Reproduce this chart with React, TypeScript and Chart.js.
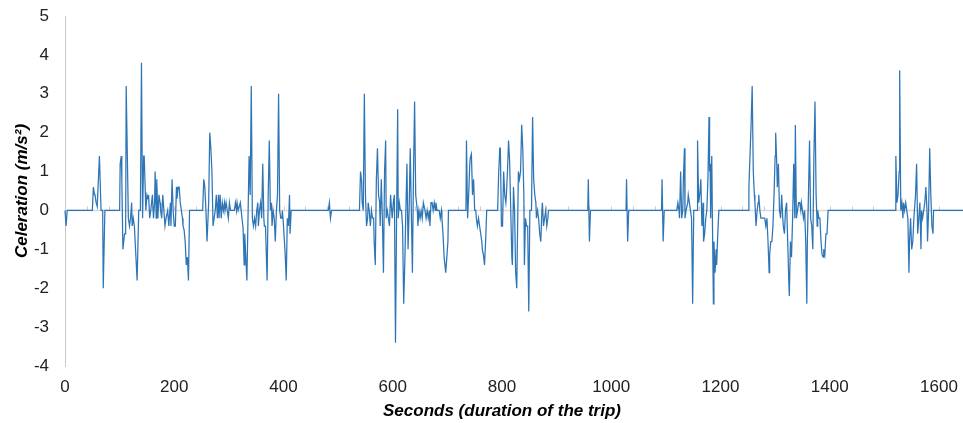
import React, { useEffect, useRef } from "react";
import { Chart, registerables } from "chart.js";

Chart.register(...registerables);

// Trip time (s) and celeration (m/s²)
const seconds = [
  0, 2, 4, 50, 52, 54, 55, 57, 59, 63, 66, 69, 70, 73,
  100, 101, 103, 104, 106, 109, 111, 112, 116, 118, 120, 122, 123, 125, 127, 132, 135, 138, 140, 142, 144, 145, 148, 150, 152, 153, 155, 157, 160, 162, 164, 165, 167, 168, 170, 172, 174, 175, 177, 179, 181, 183, 185, 186, 188, 190, 193, 194, 196, 198, 200, 202, 204, 205, 207, 209, 211, 213, 215, 216, 218, 220, 222, 224, 226, 228,
  252, 254, 256, 258, 260, 263, 265, 267, 269, 271, 273, 275, 277, 279, 281, 282, 284, 286, 288, 290, 292, 293, 295, 297, 299, 301, 303, 310, 312, 314, 315, 317, 321, 324, 326, 328, 329, 333, 335, 337, 339, 341, 343, 345, 347, 349, 351, 353, 354, 356, 358, 360, 362, 364, 365, 367, 370, 372, 374, 376, 378, 379, 381, 383, 385, 387, 389, 391, 393, 395, 397, 398, 400, 403, 405, 407, 409, 411, 412, 414,
  482, 484, 486, 488,
  539, 541, 543, 544, 546, 548, 550, 552, 554, 555, 557, 559, 561, 563, 565, 566, 568, 570, 572, 574, 576, 577, 579, 581, 583, 585, 587, 588, 590, 592, 594, 596, 598, 599, 601, 603, 605, 607, 609, 610, 612, 614, 616, 618, 620, 622, 624, 626, 628, 630, 632, 634, 636, 638, 640, 642, 645, 646, 648, 650, 652, 654, 656, 657, 659, 661, 663, 665, 667, 668, 670, 672, 674, 676, 678, 679, 681, 685, 687, 689, 690, 692, 694, 697, 699, 701, 702,
  734, 735, 737, 739, 741, 742, 744, 746, 748, 750, 752, 753, 755, 757, 759, 761, 763, 764, 766, 768, 770, 772, 792, 794, 796, 797, 799, 801, 803, 805, 807, 808, 810, 812, 814, 816, 818, 819, 821, 823, 825, 827, 829, 830, 832, 834, 836, 838, 840, 841, 843, 845, 847, 849, 851, 854, 856, 858, 860, 862, 863, 865, 867, 869, 871, 873, 874, 876, 878, 880, 882, 884, 885,
  957, 958, 960, 962, 1027, 1028, 1030, 1032, 1092, 1093, 1095, 1097,
  1120, 1122, 1124, 1125, 1127, 1129, 1131, 1132, 1134, 1135, 1137, 1140, 1141, 1143, 1145, 1147, 1149, 1151, 1157, 1158, 1160, 1162, 1164, 1166, 1168, 1169, 1171, 1173, 1175, 1177, 1179, 1180, 1181, 1182, 1184, 1185, 1187, 1188, 1190, 1192, 1193, 1195, 1197,
  1251, 1252, 1254, 1256, 1258, 1260, 1262, 1263, 1265, 1267, 1269, 1270, 1272, 1274, 1281, 1283, 1285, 1287, 1289, 1290, 1292, 1294, 1296, 1298, 1300, 1301, 1303, 1304, 1306, 1308, 1310, 1312, 1314, 1315, 1317, 1319, 1321, 1323, 1325, 1326, 1328, 1330, 1332, 1334, 1336, 1337, 1339, 1341, 1343, 1345, 1347, 1348, 1350, 1352, 1354, 1356, 1358, 1359, 1361, 1363, 1365, 1367, 1369, 1371, 1373, 1375, 1377, 1378, 1380, 1382, 1384, 1386, 1388, 1389, 1391, 1393, 1395, 1397,
  1520, 1521, 1523, 1525, 1527, 1528, 1530, 1532, 1534, 1535, 1537, 1539, 1541, 1543, 1545, 1546, 1548, 1550, 1552, 1554, 1556, 1557, 1559, 1561, 1563, 1565, 1567, 1568, 1570, 1572, 1574, 1576, 1578, 1579, 1581, 1583, 1585, 1587, 1589, 1590,
  1644,
];

const celeration = [
  0, -0.4, 0, 0, 0.6, 0.4, 0.4, 0.2, 0.1, 1.4, 0, 0, -2.0, 0,
  0, 1.2, 1.4, 0.8, -1.0, -0.6, -0.6, 3.2, -0.2, -0.4, -0.2, 0.2, -0.4, -0.2, -0.4, -1.8, 0, 0, 3.8, -0.2, 1.4, 1.4, 0, 0.4, 0.3, 0.4, -0.2, 0, 0.4, -0.2, 0.2, 1.0, -0.2, 0.8, -0.2, 0.4, 0.2, 0, -0.2, 0.4, 0, -0.4, -0.2, -0.2, 0, -0.4, 0.2, -0.4, 0.8, 0, -0.4, -0.4, 0.6, 0.3, 0.6, 0.6, 0.2, 0, -0.2, -0.4, -0.5, -0.8, -1.4, -1.2, -1.8, 0,
  0, 0.8, 0.6, 0, -0.8, 0.2, 2.0, 1.6, 1.0, -0.4, -0.2, 0, 0.4, -0.2, 0.4, -0.2, 0.4, -0.2, 0.2, 0, 0.2, 0, 0.2, 0, -0.2, 0.2, 0, 0, 0.2, 0, 0.2, 0, 0.2, -0.2, -0.45, -1.4, -0.6, -1.8, -0.2, 1.4, 0.4, 3.2, -0.2, -0.4, -0.2, -0.4, 0, 0.2, -0.4, 0, 0.2, -0.2, 1.2, -0.2, -0.4, -0.4, -1.8, 0.4, 1.8, 0, 0.2, -0.4, 0, -0.2, -0.8, 0, 0.4, 3.0, 0, -0.2, -0.2, 0, -0.4, -1.1, -1.8, -0.2, -0.4, 0.4, -0.6, 0,
  0, 0.2, -0.2, 0,
  0, 1.0, 0.75, 0.2, 0, 3.0, 0.4, -0.4, -0.2, 0.2, 0, -0.4, 0, -0.2, -0.2, -0.8, -1.4, 0.8, 1.6, 0.4, 0.2, -0.4, 0.8, -0.2, -1.6, 1.0, 1.8, -0.2, 0, -0.2, -0.4, 0.4, 0, -0.2, 0.2, 0.4, -3.4, -0.2, 2.6, -0.2, 0.2, 0, 0, -0.4, -2.4, -1.4, 0, 1.2, -1.0, 0, 1.6, 0, -1.6, 1.0, 2.8, 0.4, 0, -0.4, 0, -0.2, 0, -0.2, 0.2, 0.2, 0, -0.2, 0, -0.2, 0, -0.4, 0.2, 0.2, 0, 0.2, 0, 0.2, 0, 0, -0.2, 0, -0.2, -0.6, -1.2, -1.6, -1.2, -0.8, 0,
  0, 1.8, -0.2, 0.4, 1.2, 1.35, 1.45, 0.4, 0.8, 0, 0, -0.2, -0.4, -0.2, -0.4, -0.6, -0.8, -1.0, -1.14, -1.4, -0.8, 0, 0, 1.0, 1.6, 1.6, -0.4, -0.4, 1.0, 0.4, 0.2, 0.4, 1.0, 1.8, 1.26, 0, -1.2, -1.4, 0.6, 0, -1.6, -2.0, 0, 1.0, 0.8, 1.0, 2.2, 1.6, 0.4, -1.4, -0.2, -0.4, -0.4, -2.6, 0, 0, 2.4, 0.8, 0.4, 0.2, -0.2, 0, -0.2, -0.6, -0.8, 0, 0.2, -0.4, -0.2, 0, -0.4, -0.2, 0,
  0, 0.8, -0.8, 0, 0, 0.8, -0.8, 0, 0, 0.8, -0.8, 0,
  0, 0.2, 0, -0.2, 1.0, -0.2, 0, 0.8, 1.6, -0.2, 0, 0.2, 0.4, 0.2, 0, -0.2, -2.4, 0, 0, 1.8, 0.2, 0.4, 0.8, -0.4, 0.2, -0.8, -0.6, -0.2, 0, 0.8, 2.4, 1.0, 1.2, -0.2, 1.4, 0, -2.4, -0.8, -1.6, -1.0, -1.4, -0.6, 0,
  0, 0.6, 1.4, 2.2, 3.2, 1.0, 0.4, 0.2, -0.4, 0, 0.2, 0.4, 0, -0.2, -0.2, -0.4, -0.2, -0.8, -1.6, -1.14, -0.8, -0.8, -0.4, 0.4, 1.4, 2.0, 1.2, 0.6, 1.2, 0, -0.2, 0.4, -0.2, -0.4, -0.6, 0, 0.2, -0.8, -1.8, -2.2, -0.8, -1.2, -0.2, 1.2, -0.2, 2.2, -0.2, 0, 0.2, 0.2, 0, 0.2, 0, -0.2, 0, -0.8, -2.4, -0.8, 0.4, 1.8, -0.2, -0.4, -1.0, 1.4, 2.8, 0.4, -0.4, 0, -0.2, -0.2, -0.8, -1.14, -1.2, -1.0, -1.14, -0.6, -0.6, 0,
  0, 1.4, 0.2, 0.4, 1.0, 3.6, 0, 0.2, -0.2, 0.2, 0, 0.2, 0, -0.2, -1.6, -0.8, -0.2, -1.0, -0.8, -0.2, 0.2, 0.4, 1.2, -0.6, -0.2, 0.2, -1.0, 0, -0.2, 0, 0.2, 0.6, 0, -0.8, 0, 1.6, 0.4, -0.4, -0.6, 0,
  0,
];

const xMin = 0;
const xMax = 1600;
const xMajorStep = 200;
const xMinorStep = 40;
const yMin = -4;
const yMax = 5;
const yStep = 1;

const xTitle = "Seconds (duration of the trip)";
const yTitle = "Celeration (m/s²)";

const FONT = "'Liberation Sans', Arial, sans-serif";

const zeroLinePlugin = {
  id: "zeroLine",
  beforeDatasetsDraw(chart: any) {
    const { ctx, chartArea, scales } = chart;
    const y0 = scales.y.getPixelForValue(0);
    ctx.save();
    ctx.strokeStyle = "#D9D9D9";
    ctx.lineWidth = 1.5;
    ctx.beginPath();
    ctx.moveTo(chartArea.left, y0);
    ctx.lineTo(chart.width, y0);
    ctx.stroke();
    ctx.strokeStyle = "#C8C8C8";
    ctx.lineWidth = 1;
    ctx.beginPath();
    for (let v = xMin + xMinorStep; v <= xMax; v += xMinorStep) {
      const px = Math.round(scales.x.getPixelForValue(v)) + 0.5;
      ctx.moveTo(px, y0 - 4);
      ctx.lineTo(px, y0);
    }
    ctx.stroke();
    ctx.restore();
  },
};

export default function App() {
  const ref = useRef<HTMLCanvasElement>(null);

  useEffect(() => {
    document.body.style.margin = "0";
    const points = seconds.map((s, i) => ({ x: s, y: celeration[i] }));
    const chart = new Chart(ref.current as HTMLCanvasElement, {
      type: "line",
      data: {
        datasets: [
          {
            data: points,
            borderColor: "#2E75B6",
            borderWidth: 1.25,
            pointRadius: 0,
            tension: 0,
            clip: false as any,
          },
        ],
      },
      options: {
        responsive: false,
        animation: false,
        events: [],
        layout: { padding: { top: 16, right: 24, left: 0, bottom: 0 } },
        plugins: {
          legend: { display: false },
          tooltip: { enabled: false },
        },
        scales: {
          x: {
            type: "linear",
            position: "bottom",
            min: xMin,
            max: xMax,
            grid: { display: false, drawTicks: false },
            border: { display: false },
            ticks: {
              stepSize: xMajorStep,
              padding: 11,
              color: "#222222",
              font: { family: FONT, size: 17 },
              maxRotation: 0,
              callback: (v: any) => String(v),
            },
            title: {
              display: true,
              text: xTitle,
              color: "#000000",
              font: { family: FONT, size: 17, weight: "bold", style: "italic" },
              padding: { top: 0, bottom: 1 },
            },
            afterFit: (s: any) => {
              s.height = 57;
              s.paddingLeft = 0;
              s.paddingRight = 0;
            },
          },
          y: {
            type: "linear",
            min: yMin,
            max: yMax,
            grid: { display: false, drawTicks: false },
            border: { display: true, color: "#C9C9C9", width: 1 },
            ticks: {
              stepSize: yStep,
              padding: 16,
              color: "#222222",
              font: { family: FONT, size: 17 },
              callback: (v: any) => String(v),
            },
            title: {
              display: true,
              text: yTitle,
              color: "#000000",
              font: { family: FONT, size: 17, weight: "bold", style: "italic" },
              padding: { top: 12, bottom: 0 },
            },
            afterFit: (s: any) => {
              s.width = 65;
              s.paddingTop = 0;
              s.paddingBottom = 0;
            },
          },
        },
      } as any,
      plugins: [zeroLinePlugin],
    });
    return () => chart.destroy();
  }, []);

  return (
    <div style={{ position: "absolute", left: 0, top: 0, width: 963, height: 423, background: "#ffffff" }}>
      <canvas ref={ref} width={963} height={423} style={{ display: "block" }} />
    </div>
  );
}
